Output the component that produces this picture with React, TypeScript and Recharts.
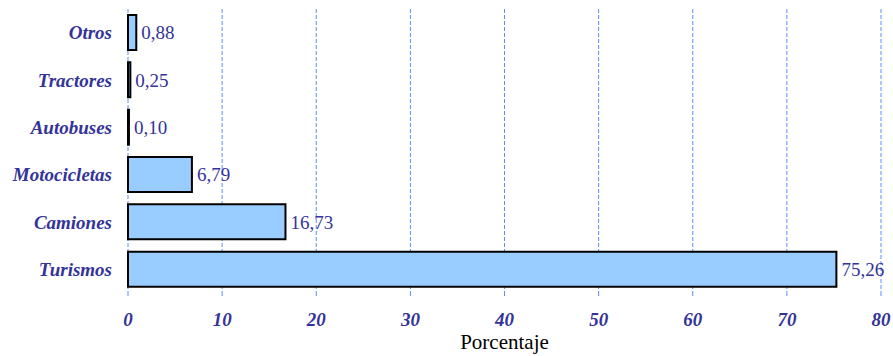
import { BarChart, Bar, XAxis, YAxis, CartesianGrid, LabelList, Label } from 'recharts'

const categories = ['Otros', 'Tractores', 'Autobuses', 'Motocicletas', 'Camiones', 'Turismos']
const values = [0.88, 0.25, 0.1, 6.79, 16.73, 75.26]
const xTicks = [0, 10, 20, 30, 40, 50, 60, 70, 80]

const data = categories.map((name, i) => ({ name, value: values[i] }))

const NAVY = '#333399'
const SERIF = 'Liberation Serif, Times New Roman, serif'

const fmt = (v: number) => v.toFixed(2).replace('.', ',')

export default function App() {
  return (
    <div style={{ position: 'absolute', left: 0, top: 0, background: '#fff', fontFamily: SERIF }}>
      <BarChart
        width={893}
        height={356}
        data={data}
        layout="vertical"
        margin={{ top: 9, right: 12, bottom: 0, left: 0 }}
      >
        <CartesianGrid horizontal={false} stroke="#5c8dff" strokeDasharray="4 2" />
        <XAxis
          type="number"
          domain={[0, 80]}
          ticks={xTicks}
          interval={0}
          height={63}
          axisLine={false}
          tickSize={3}
          tickLine={{ stroke: '#5c8dff' }}
          tickMargin={17}
          tick={{ fill: NAVY, fontSize: 19, fontStyle: 'italic', fontWeight: 'bold', fontFamily: SERIF }}
        >
          <Label
            value="Porcentaje"
            position="insideBottom"
            offset={7}
            fontFamily={SERIF}
            fontSize={21}
            fill="#000"
          />
        </XAxis>
        <YAxis
          type="category"
          dataKey="name"
          width={128}
          axisLine={false}
          tickLine={false}
          tickSize={0}
          tickMargin={16}
          interval={0}
          tick={{ fill: NAVY, fontSize: 19, fontStyle: 'italic', fontWeight: 'bold', fontFamily: SERIF }}
        />
        <Bar dataKey="value" fill="#99ccff" stroke="#000" strokeWidth={2} barSize={35} isAnimationActive={false}>
          <LabelList
            dataKey="value"
            position="right"
            offset={5}
            formatter={(v: number) => fmt(v)}
            fill={NAVY}
            fontSize={19}
            fontFamily={SERIF}
          />
        </Bar>
      </BarChart>
    </div>
  )
}
